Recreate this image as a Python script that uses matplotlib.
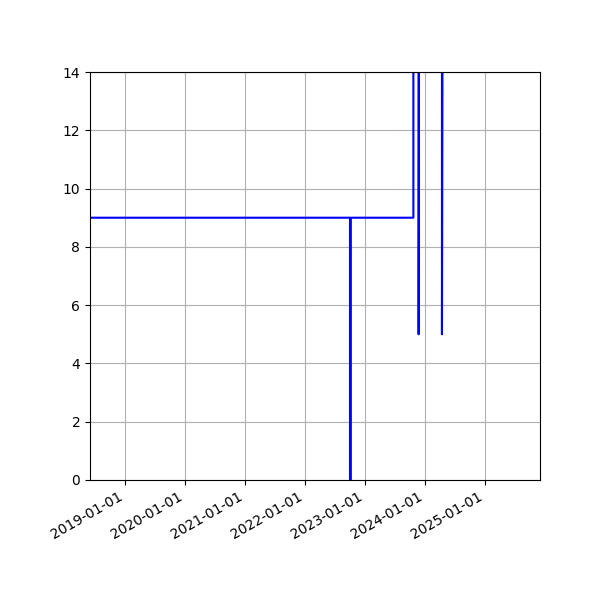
import numpy as np
import pandas as pd
import matplotlib
matplotlib.use("Agg")
import matplotlib.pyplot as plt
import matplotlib.dates as mdates

# series (values above 14 run off the top)
dates = ["2018-01-01", "2022-10-01", "2022-10-01", "2022-10-06", "2022-10-06",
         "2023-10-22", "2023-10-22", "2023-11-23", "2023-11-23", "2023-11-26",
         "2024-04-13", "2024-04-13", "2024-04-18", "2026-06-01"]
values = [9, 9, -1, -1, 9,
          9, 20, 20, 5, 20,
          20, 5, 20, 20]

x = pd.to_datetime(dates)

fig, ax = plt.subplots(figsize=(6, 6), dpi=100)
ax.plot(x, values, color="b", linewidth=1.5)

ax.set_xlim(pd.Timestamp("2018-06-01"), pd.Timestamp("2025-12-01"))
ax.set_ylim(0, 14)
ax.xaxis.set_major_locator(mdates.YearLocator())
ax.xaxis.set_major_formatter(mdates.DateFormatter("%Y-%m-%d"))
ax.grid(True)
fig.autofmt_xdate()
fig.subplots_adjust(left=0.15, right=0.9, bottom=0.2, top=0.88)

plt.savefig("out.png")
